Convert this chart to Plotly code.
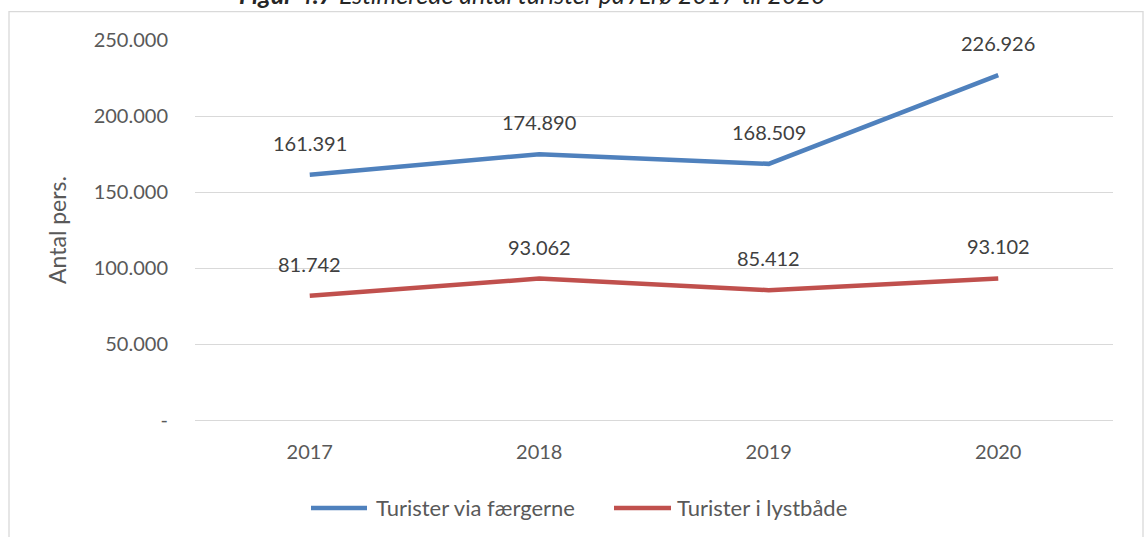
import plotly.graph_objects as go

years = ["2017", "2018", "2019", "2020"]
faerger = [161391, 174890, 168509, 226926]
lystbaade = [81742, 93062, 85412, 93102]
series_names = ["Turister via færgerne", "Turister i lystbåde"]
colors = ["#4f81bd", "#c0504d"]
tick_vals = [0, 50000, 100000, 150000, 200000, 250000]
tick_text = ["-", "50.000", "100.000", "150.000", "200.000", "250.000"]

def fmt(v):
    return f"{v:,}".replace(",", ".")

W, H = 1148, 537
L, R, T, B = 195, 35, 39.5, 117
pw, ph = W - L - R, H - T - B

def px_x(p):
    return (p - L) / pw

def px_y(p):
    return 1 - (p - T) / ph

FONT = "Lato"
fig = go.Figure()
for name, vals, col in zip(series_names, [faerger, lystbaade], colors):
    fig.add_trace(go.Scatter(x=list(range(len(years))), y=vals, mode="lines", name=name,
                             line=dict(color=col, width=4.5), hoverinfo="skip",
                             showlegend=False))

annotations = []
for vals in [faerger, lystbaade]:
    for i, v in enumerate(vals):
        annotations.append(dict(x=i, y=v, xref="x", yref="y", text=fmt(v),
                                showarrow=False, yshift=32,
                                font=dict(family=FONT, size=20, color="#404040")))

annotations.append(dict(
    x=px_x(532), y=px_y(10), xref="paper", yref="paper",
    xanchor="center", yanchor="bottom", showarrow=False,
    text="<b><i>Figur 4.7</i></b><i> Estimerede antal turister på Ærø 2017 til 2020</i>",
    font=dict(family=FONT, size=25, color="#262626")))

shapes = [dict(type="rect", xref="paper", yref="paper",
               x0=px_x(9), x1=px_x(1143), y0=px_y(545), y1=px_y(11),
               line=dict(color="#d9d9d9", width=1.3), fillcolor="rgba(0,0,0,0)",
               layer="below")]

# custom legend
leg_y = 508
leg_items = [(311, 367, 374), (614, 671, 675)]
for (x0, x1, tx), name, col in zip(leg_items, series_names, colors):
    shapes.append(dict(type="line", xref="paper", yref="paper",
                       x0=px_x(x0), x1=px_x(x1), y0=px_y(leg_y), y1=px_y(leg_y),
                       line=dict(color=col, width=4.5)))
    annotations.append(dict(x=px_x(tx), y=px_y(leg_y), xref="paper", yref="paper",
                            xanchor="left", yanchor="middle", showarrow=False,
                            text=name, font=dict(family=FONT, size=22, color="#595959")))

fig.update_layout(
    width=W, height=H,
    margin=dict(l=L, r=R, t=T, b=B, pad=0),
    paper_bgcolor="white", plot_bgcolor="white",
    font=dict(family=FONT, size=20, color="#595959"),
    showlegend=False,
    annotations=annotations,
    shapes=shapes,
)
fig.update_xaxes(range=[-0.5, 3.5], tickvals=list(range(len(years))), ticktext=years,
                 showgrid=False, showline=False, zeroline=False, ticks="",
                 ticklabelstandoff=18,
                 tickfont=dict(family=FONT, size=20, color="#595959"))
fig.update_yaxes(range=[0, 250000], tickvals=tick_vals, ticktext=tick_text,
                 showgrid=True, gridcolor="#d9d9d9", gridwidth=1.3,
                 zeroline=True, zerolinecolor="#d9d9d9", zerolinewidth=1.3,
                 showline=False, ticks="", ticklabelstandoff=26,
                 tickfont=dict(family=FONT, size=20, color="#595959"),
                 title=dict(text="Antal pers.", standoff=20,
                            font=dict(family=FONT, size=23, color="#595959")))

fig.write_html("out.html", config={"displayModeBar": False},
               post_script="document.body.style.margin='0px';")
